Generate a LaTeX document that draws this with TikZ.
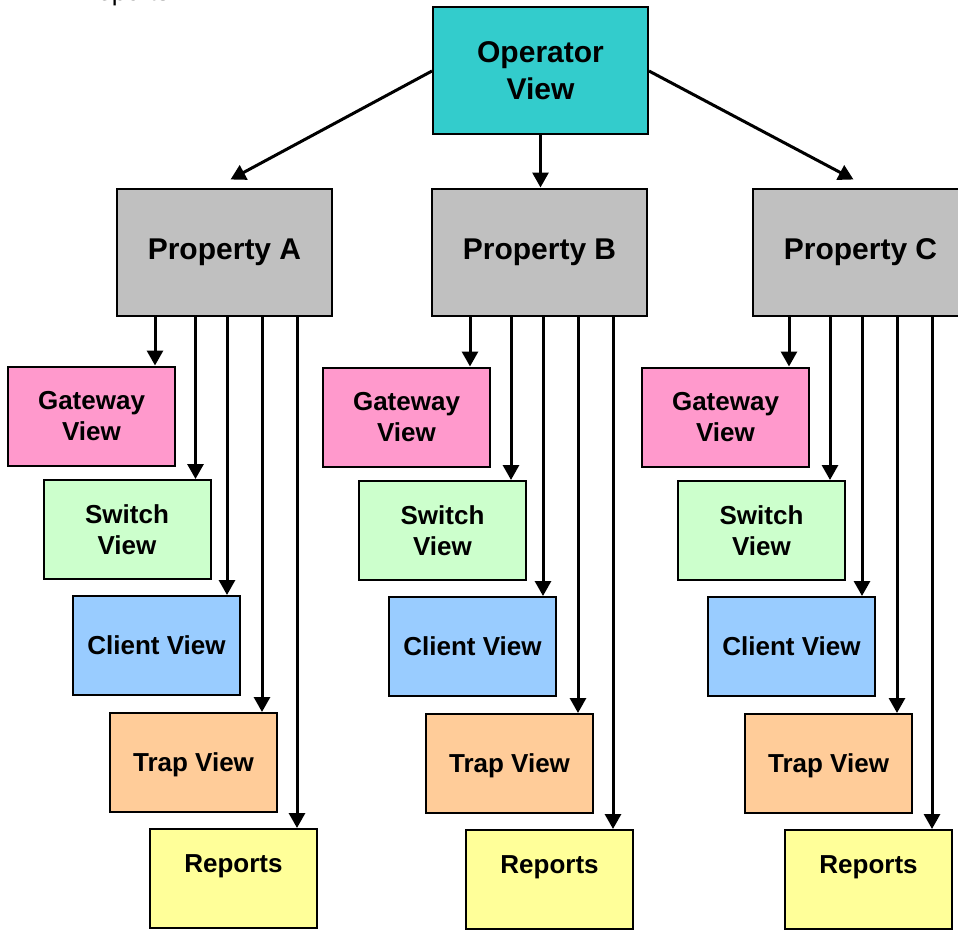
\documentclass[tikz,border=0pt]{standalone}
\usepackage{fontspec}
\setmainfont{Liberation Sans}
\usetikzlibrary{positioning,calc,arrows.meta}

\definecolor{opcyan}{HTML}{33CCCC}
\definecolor{propgray}{HTML}{C0C0C0}
\definecolor{gwpink}{HTML}{FF99CC}
\definecolor{swgreen}{HTML}{CCFFCC}
\definecolor{clblue}{HTML}{99CCFF}
\definecolor{trpeach}{HTML}{FFCC99}
\definecolor{rpyellow}{HTML}{FFFF99}

\begin{document}
\begin{tikzpicture}[x=1pt,y=-1pt,
    box/.style={draw,line width=2pt,inner sep=0pt,align=center,
      minimum width=167pt,minimum height=99pt,text depth=0pt,
      font=\bfseries\fontsize{26}{31}\selectfont},
    bigbox/.style={box,minimum width=215pt,minimum height=127pt,text depth=,
      font=\bfseries\fontsize{30}{37}\selectfont},
    reports/.style={box,fill=rpyellow,text height=19pt,text depth=32pt},
    arr/.style={-{Triangle[length=15pt,width=16pt]},line width=3pt}]
  \useasboundingbox (0,0) rectangle (958,931);

  % caption left over at the top edge
  \node[anchor=base west,font=\fontsize{26}{31}\selectfont] (cap) at (75,0.6) {Reports};

  \node[bigbox,fill=opcyan]   (op)    at (540.5,71) {Operator\\View};
  \node[bigbox,fill=propgray] (propA) at (224.5,252) {Property A};
  \node[bigbox,fill=propgray] (propB) at (539.5,252) {Property B};
  \node[bigbox,fill=propgray] (propC) at (860.5,252) {Property C};

  % property A
  \node[box,fill=gwpink]  (gwA) at (91.5,416)  {Gateway\\View};
  \node[box,fill=swgreen] (swA) at (127,529.5) {Switch\\View};
  \node[box,fill=clblue]  (clA) at (156.5,645.5) {Client View};
  \node[box,fill=trpeach] (trA) at (193.5,762.5) {Trap View};
  \node[reports]          (rpA) at (233.5,878.5) {Reports};

  % property B
  \node[box,fill=gwpink]  (gwB) at (406.5,417)   {Gateway\\View};
  \node[box,fill=swgreen] (swB) at (442.5,530.5) {Switch\\View};
  \node[box,fill=clblue]  (clB) at (472.5,646.5) {Client View};
  \node[box,fill=trpeach] (trB) at (509.5,763.5) {Trap View};
  \node[reports]          (rpB) at (549.5,879.5) {Reports};

  % property C
  \node[box,fill=gwpink]  (gwC) at (725.5,417)   {Gateway\\View};
  \node[box,fill=swgreen] (swC) at (761.5,530.5) {Switch\\View};
  \node[box,fill=clblue]  (clC) at (791.5,646.5) {Client View};
  \node[box,fill=trpeach] (trC) at (828.5,763.5) {Trap View};
  \node[reports]          (rpC) at (868.5,879.5) {Reports};

  \draw[arr] (op.west)  -- ($(propA.north)+(6,-8)$);
  \draw[arr] (op.south) -- (op.south |- propB.north);
  \draw[arr] (op.east)  -- ($(propC.north)+(-7,-8)$);

  \draw[arr] ($(propA.south -| gwA.north east)+(-21,0)$) -- ($(gwA.north east)+(-21,0)$);
  \draw[arr] ($(propA.south -| swA.north east)+(-16,0)$) -- ($(swA.north east)+(-16,0)$);
  \draw[arr] ($(propA.south -| clA.north east)+(-14,0)$) -- ($(clA.north east)+(-14,0)$);
  \draw[arr] ($(propA.south -| trA.north east)+(-16,0)$) -- ($(trA.north east)+(-16,0)$);
  \draw[arr] ($(propA.south -| rpA.north east)+(-21,0)$) -- ($(rpA.north east)+(-21,0)$);

  \draw[arr] ($(propB.south -| gwB.north east)+(-21,0)$) -- ($(gwB.north east)+(-21,0)$);
  \draw[arr] ($(propB.south -| swB.north east)+(-16,0)$) -- ($(swB.north east)+(-16,0)$);
  \draw[arr] ($(propB.south -| clB.north east)+(-14,0)$) -- ($(clB.north east)+(-14,0)$);
  \draw[arr] ($(propB.south -| trB.north east)+(-16,0)$) -- ($(trB.north east)+(-16,0)$);
  \draw[arr] ($(propB.south -| rpB.north east)+(-21,0)$) -- ($(rpB.north east)+(-21,0)$);

  \draw[arr] ($(propC.south -| gwC.north east)+(-21,0)$) -- ($(gwC.north east)+(-21,0)$);
  \draw[arr] ($(propC.south -| swC.north east)+(-16,0)$) -- ($(swC.north east)+(-16,0)$);
  \draw[arr] ($(propC.south -| clC.north east)+(-14,0)$) -- ($(clC.north east)+(-14,0)$);
  \draw[arr] ($(propC.south -| trC.north east)+(-16,0)$) -- ($(trC.north east)+(-16,0)$);
  \draw[arr] ($(propC.south -| rpC.north east)+(-21,0)$) -- ($(rpC.north east)+(-21,0)$);
\end{tikzpicture}
\end{document}
